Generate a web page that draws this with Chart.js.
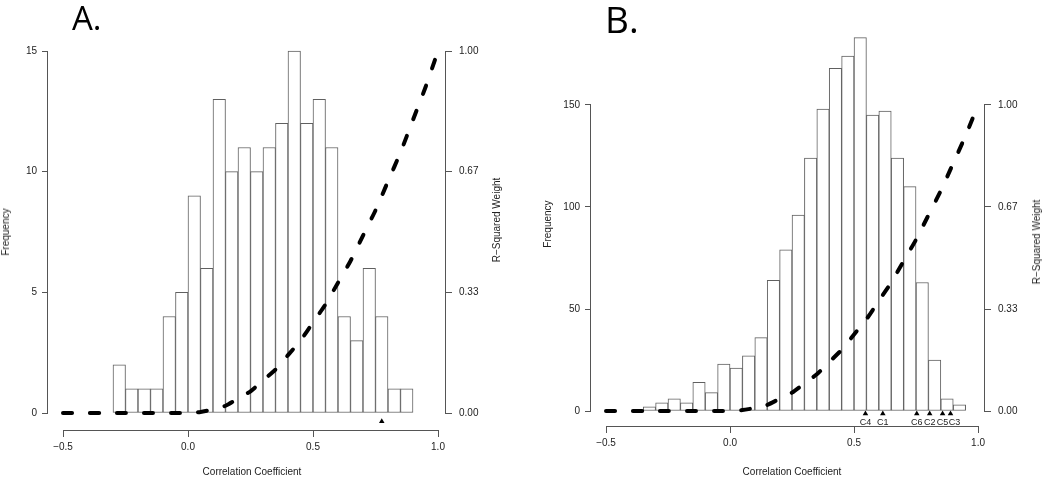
<!DOCTYPE html>
<html lang="en">
<head>
<meta charset="UTF-8" />
<title>Correlation Coefficient Histograms</title>
<script src="https://cdn.jsdelivr.net/npm/chart.js"></script>
<style>
  body { margin: 0; background: #fff; font-family: "Liberation Sans", Arial, sans-serif; color: #222; }
  #wrap { position: relative; width: 1050px; height: 477px; overflow: hidden; }
  canvas { position: absolute; top: 0; }
  .tag { position: absolute; font-family: "Open Sans", sans-serif; line-height: 1; color: #000; }
  .axt { position: absolute; font-size: 10px; line-height: 1; white-space: nowrap; transform: translate(-50%, -50%); }
  .axt.rot { transform: translate(-50%, -50%) rotate(-90deg); }
</style>
</head>
<body>
<div id="wrap">
  <canvas id="chartA" width="520" height="477" style="left:0"></canvas>
  <canvas id="chartB" width="530" height="477" style="left:520px"></canvas>

  <div class="tag" style="left:72px; top:1px; font-size:33px">A.</div>
  <div class="tag" style="left:605px; top:0px; font-size:37px">B.</div>

  <div class="axt rot" style="left:6px; top:232px">Frequency</div>
  <div class="axt rot" style="left:497px; top:220px">R&minus;Squared Weight</div>
  <div class="axt" style="left:252px; top:472px">Correlation Coefficient</div>

  <div class="axt rot" style="left:548px; top:224px">Frequency</div>
  <div class="axt rot" style="left:1037px; top:242px">R&minus;Squared Weight</div>
  <div class="axt" style="left:792px; top:472px">Correlation Coefficient</div>
</div>

<script>
  // histogram bins (left edge of each bin) and counts
  const binWidth = 0.05;
  const binsA = [-0.30, -0.25, -0.20, -0.15, -0.10, -0.05, 0.00, 0.05, 0.10, 0.15, 0.20, 0.25,
                 0.30, 0.35, 0.40, 0.45, 0.50, 0.55, 0.60, 0.65, 0.70, 0.75, 0.80, 0.85];
  const countsA = [2, 1, 1, 1, 4, 5, 9, 6, 13, 10, 11, 10, 11, 12, 15, 12, 13, 11, 4, 3, 6, 4, 1, 1];

  const binsB = [-0.35, -0.30, -0.25, -0.20, -0.15, -0.10, -0.05, 0.00, 0.05, 0.10, 0.15, 0.20, 0.25,
                 0.30, 0.35, 0.40, 0.45, 0.50, 0.55, 0.60, 0.65, 0.70, 0.75, 0.80, 0.85, 0.90];
  const countsB = [2, 4, 6, 4, 14, 9, 23, 21, 27, 36, 64, 79, 96,
                   124, 148, 168, 174, 183, 145, 147, 124, 110, 63, 25, 6, 3];

  // dashed weight curve (right axis)
  const curveR = [-0.50, -0.45, -0.40, -0.35, -0.30, -0.25, -0.20, -0.15, -0.10, -0.05, 0.00,
                  0.05, 0.10, 0.15, 0.20, 0.25, 0.30, 0.35, 0.40, 0.45, 0.50,
                  0.55, 0.60, 0.65, 0.70, 0.75, 0.80, 0.85, 0.90, 0.95, 1.00];
  const curveW = [0, 0, 0, 0, 0, 0, 0, 0, 0, 0, 0,
                  0.003, 0.01, 0.02, 0.04, 0.06, 0.09, 0.12, 0.16, 0.20, 0.25,
                  0.30, 0.36, 0.42, 0.49, 0.56, 0.64, 0.72, 0.81, 0.90, 1.00];

  // triangles under the histogram
  const markersA = [0.775];
  const markerNamesA = [""];
  const markersB = [0.546, 0.616, 0.753, 0.805, 0.857, 0.889];
  const markerNamesB = ["C4", "C1", "C6", "C2", "C5", "C3"];

  // axis ticks
  const xTicks = [-0.5, 0, 0.5, 1];
  const xTickLabels = ["\u22120.5", "0.0", "0.5", "1.0"];
  const freqTicksA = [0, 5, 10, 15];
  const freqTicksB = [0, 50, 100, 150];
  const weightTicks = [0, 0.333, 0.667, 1];
  const weightTickLabels = ["0.00", "0.33", "0.67", "1.00"];

  const axisColor = "#555";
  const barLine = "#606060";
  const textColor = "#222";
  const tickFont = { family: "'Liberation Sans', Arial, sans-serif", size: 10 };

  // R style axes: line only from first to last tick
  const axisLines = {
    id: "axisLines",
    afterDraw(chart) {
      const o = chart.options.plugins.axisLines;
      const { ctx, chartArea: a, scales } = chart;
      const lx = Math.round(a.left) - 0.5;
      const rx = Math.round(a.right) + 0.5;
      const by = Math.round(a.bottom) + 0.5;
      const f = o.freqTicks;
      ctx.save();
      ctx.strokeStyle = axisColor;
      ctx.lineWidth = 1;
      ctx.beginPath();
      ctx.moveTo(lx, scales.y.getPixelForValue(f[0]));
      ctx.lineTo(lx, scales.y.getPixelForValue(f[f.length - 1]));
      ctx.moveTo(rx, scales.y2.getPixelForValue(weightTicks[0]));
      ctx.lineTo(rx, scales.y2.getPixelForValue(weightTicks[weightTicks.length - 1]));
      ctx.moveTo(scales.x.getPixelForValue(xTicks[0]), by);
      ctx.lineTo(scales.x.getPixelForValue(xTicks[xTicks.length - 1]), by);
      ctx.stroke();
      ctx.restore();
    }
  };

  // names under the triangles; the last one is nudged right like in the source plot
  const markerText = {
    id: "markerText",
    afterDatasetsDraw(chart) {
      const { ctx } = chart;
      chart.data.datasets.forEach((ds, i) => {
        if (!ds.markerNames) return;
        const meta = chart.getDatasetMeta(i);
        ctx.save();
        ctx.fillStyle = textColor;
        ctx.font = "9px 'Liberation Sans', Arial, sans-serif";
        ctx.textAlign = "center";
        ctx.textBaseline = "middle";
        meta.data.forEach((pt, j) => {
          const name = ds.markerNames[j];
          if (!name) return;
          const dx = j === meta.data.length - 1 && j > 0 ? 4 : 0;
          ctx.fillText(name, pt.x + dx, pt.y + 9);
        });
        ctx.restore();
      });
    }
  };

  function makeChart(id, o) {
    const top = o.freqTicks[o.freqTicks.length - 1];
    const tickGrid = (len) => ({
      display: true, drawOnChartArea: false, drawTicks: true,
      tickLength: len, color: axisColor, lineWidth: 1, offset: false
    });
    return new Chart(document.getElementById(id), {
      type: "bar",
      data: {
        datasets: [
          {
            type: "line",
            data: curveR.map((r, i) => ({ x: r, y: curveW[i] })),
            yAxisID: "y2",
            borderColor: "#000",
            borderWidth: 4,
            borderDash: [9, 18],
            borderCapStyle: "round",
            pointRadius: 0,
            fill: false,
            tension: 0.2,
            order: 0
          },
          {
            type: "scatter",
            data: o.markers.map((m) => ({ x: m, y: o.markerY })),
            markerNames: o.markerNames,
            yAxisID: "y",
            pointStyle: "triangle",
            pointRadius: 3.2,
            backgroundColor: "#000",
            borderColor: "#000",
            borderWidth: 0,
            order: 1
          },
          {
            type: "bar",
            data: o.bins.map((b, i) => ({ x: b + binWidth / 2, y: o.counts[i] })),
            yAxisID: "y",
            backgroundColor: "#fff",
            borderColor: barLine,
            borderWidth: 1,
            borderSkipped: false,
            barPercentage: 1,
            categoryPercentage: 1,
            order: 2
          }
        ]
      },
      options: {
        responsive: false,
        animation: false,
        devicePixelRatio: 1,
        layout: { padding: { top: o.padTop, left: 0, right: 0, bottom: 0 } },
        plugins: {
          legend: { display: false },
          tooltip: { enabled: false },
          axisLines: { freqTicks: o.freqTicks }
        },
        scales: {
          x: {
            type: "linear",
            min: o.xMin,
            max: o.xMax,
            offset: false,
            afterBuildTicks: (s) => { s.ticks = xTicks.map((v) => ({ value: v })); },
            afterFit: (s) => { s.height = o.xHeight; },
            grid: tickGrid(7),
            border: { display: false },
            ticks: {
              autoSkip: false, maxRotation: 0, padding: 4,
              font: tickFont, color: textColor,
              callback: (v, i) => xTickLabels[i]
            }
          },
          y: {
            position: "left",
            min: o.yMin,
            max: o.yMax,
            afterBuildTicks: (s) => { s.ticks = o.freqTicks.map((v) => ({ value: v })); },
            afterFit: (s) => { s.width = o.yWidth; },
            grid: tickGrid(6),
            border: { display: false },
            ticks: { padding: 5, font: tickFont, color: textColor, callback: (v) => String(v) }
          },
          y2: {
            position: "right",
            min: o.yMin / top,
            max: o.yMax / top,
            afterBuildTicks: (s) => { s.ticks = weightTicks.map((v) => ({ value: v })); },
            afterFit: (s) => { s.width = o.y2Width; },
            grid: tickGrid(7),
            border: { display: false },
            ticks: { padding: 7, font: tickFont, color: textColor, callback: (v, i) => weightTickLabels[i] }
          }
        }
      },
      plugins: [axisLines, markerText]
    });
  }

  makeChart("chartA", {
    bins: binsA, counts: countsA, markers: markersA, markerNames: markerNamesA, markerY: -0.35,
    freqTicks: freqTicksA,
    xMin: -0.56, xMax: 1.028, yMin: -0.704, yMax: 15.456,
    padTop: 40, yWidth: 48, y2Width: 75, xHeight: 47
  });

  makeChart("chartB", {
    bins: binsB, counts: countsB, markers: markersB, markerNames: markerNamesB, markerY: -1.3,
    freqTicks: freqTicksB,
    xMin: -0.5605, xMax: 1.024, yMin: -7.35, yMax: 186.76,
    padTop: 30, yWidth: 71, y2Width: 66, xHeight: 51
  });
</script>
</body>
</html>
